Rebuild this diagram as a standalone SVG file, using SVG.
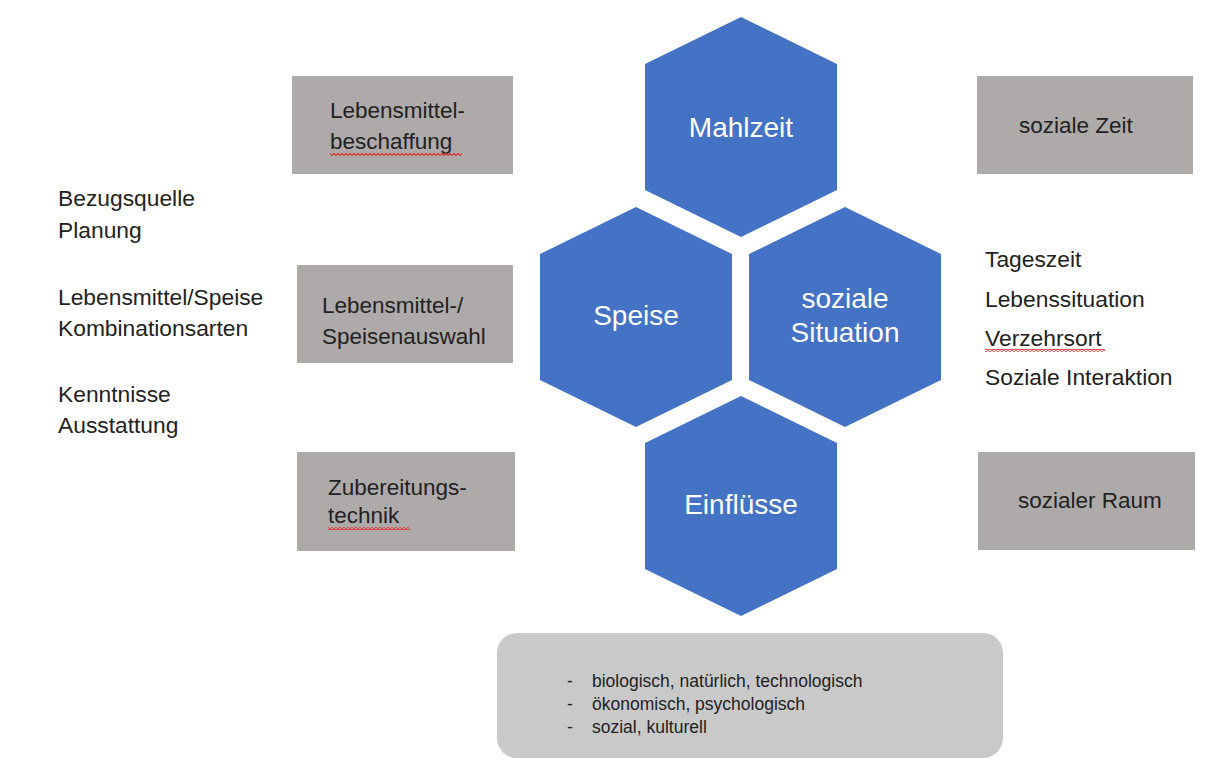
<svg xmlns="http://www.w3.org/2000/svg" width="1215" height="782" viewBox="0 0 1215 782">
  <style>
    text { font-family: "Liberation Sans", Arial, sans-serif; }
    .hex { fill: #4472C4; }
    .hexlabel { fill: #FFFFFF; font-size: 28px; text-anchor: middle; }
    .box { fill: #AEAAAA; }
    .label { fill: #222222; font-size: 22.5px; }
    .note { fill: #222222; font-size: 22.8px; }
    .factors { fill: #C9C9C9; }
    .small { fill: #222222; font-size: 17.5px; }
    .spell { fill: url(#squiggle); }
  </style>
  <defs>
    <polygon id="hexshape" points="0,-110 96,-63 96,63 0,110 -96,63 -96,-63"/>
    <pattern id="squiggle" x="0" y="0" width="4" height="3" patternUnits="userSpaceOnUse">
      <polyline points="0,2.5 2,0.5 4,2.5" fill="none" stroke="#E03030" stroke-width="1.1"/>
    </pattern>
  </defs>

  <rect width="1215" height="782" fill="#FFFFFF"/>

  <!-- central hexagon cluster -->
  <g id="hex-mahlzeit">
    <use href="#hexshape" class="hex" x="741" y="127"/>
    <text class="hexlabel" x="741" y="137">Mahlzeit</text>
  </g>
  <g id="hex-speise">
    <use href="#hexshape" class="hex" x="636" y="317"/>
    <text class="hexlabel" x="636" y="325">Speise</text>
  </g>
  <g id="hex-situation">
    <use href="#hexshape" class="hex" x="845" y="317"/>
    <text class="hexlabel" x="845" y="308">soziale</text>
    <text class="hexlabel" x="845" y="342">Situation</text>
  </g>
  <g id="hex-einfluesse">
    <use href="#hexshape" class="hex" x="741" y="506"/>
    <text class="hexlabel" x="741" y="514">Einflüsse</text>
  </g>

  <!-- left-hand boxes -->
  <g id="box-beschaffung">
    <rect class="box" x="292" y="76" width="221" height="98"/>
    <text class="label" x="330" y="118">Lebensmittel-</text>
    <text class="label" x="330" y="149">beschaffung</text>
    <rect class="spell" x="330" y="153" width="132" height="3"/>
  </g>
  <g id="box-auswahl">
    <rect class="box" x="297" y="265" width="216" height="98"/>
    <text class="label" x="322" y="313">Lebensmittel-/</text>
    <text class="label" x="322" y="344">Speisenauswahl</text>
  </g>
  <g id="box-zubereitung">
    <rect class="box" x="297" y="452" width="218" height="99"/>
    <text class="label" x="328" y="495">Zubereitungs-</text>
    <text class="label" x="328" y="523">technik</text>
    <rect class="spell" x="328" y="527" width="82" height="3"/>
  </g>

  <!-- right-hand boxes -->
  <g id="box-zeit">
    <rect class="box" x="977" y="76" width="216" height="98"/>
    <text class="label" x="1019" y="133">soziale Zeit</text>
  </g>
  <g id="box-raum">
    <rect class="box" x="978" y="452" width="217" height="98"/>
    <text class="label" x="1018" y="508">sozialer Raum</text>
  </g>

  <!-- free-standing notes -->
  <g id="notes-left">
    <text class="note" x="58" y="206">Bezugsquelle</text>
    <text class="note" x="58" y="238">Planung</text>
    <text class="note" x="58" y="305">Lebensmittel/Speise</text>
    <text class="note" x="58" y="336">Kombinationsarten</text>
    <text class="note" x="58" y="402">Kenntnisse</text>
    <text class="note" x="58" y="433">Ausstattung</text>
  </g>
  <g id="notes-right">
    <text class="note" x="985" y="267">Tageszeit</text>
    <text class="note" x="985" y="307">Lebenssituation</text>
    <text class="note" x="985" y="346">Verzehrsort</text>
    <rect class="spell" x="985" y="349" width="120" height="3"/>
    <text class="note" x="985" y="385">Soziale Interaktion</text>
  </g>

  <!-- influence factors -->
  <g id="box-factors">
    <rect class="factors" x="497" y="633" width="506" height="125" rx="20" ry="20"/>
    <text class="small" x="567" y="687">-</text>
    <text class="small" x="592" y="687">biologisch, natürlich, technologisch</text>
    <text class="small" x="567" y="710">-</text>
    <text class="small" x="592" y="710">ökonomisch, psychologisch</text>
    <text class="small" x="567" y="733">-</text>
    <text class="small" x="592" y="733">sozial, kulturell</text>
  </g>

  <g id="connectors"/>
</svg>
